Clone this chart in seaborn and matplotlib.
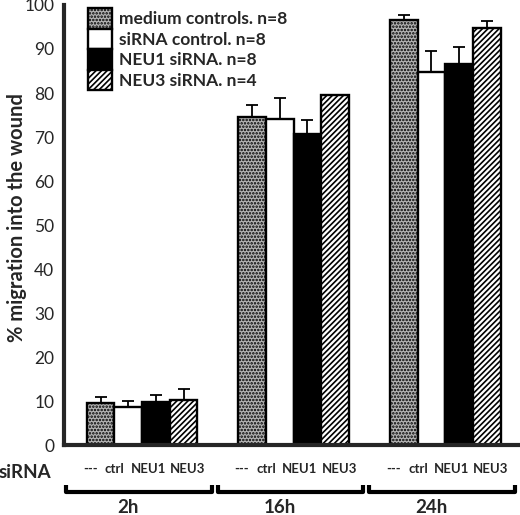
import matplotlib
matplotlib.use('Agg')
import matplotlib.pyplot as plt
import seaborn as sns
import pandas as pd

# data
times = ['2h', '16h', '24h']
conditions = ['medium controls. n=8', 'siRNA control. n=8', 'NEU1 siRNA. n=8', 'NEU3 siRNA. n=4']
short_labels = ['---', 'ctrl', 'NEU1', 'NEU3']

medium = [9.6, 74.6, 96.7]
ctrl = [8.7, 74.0, 84.7]
neu1 = [9.7, 70.7, 86.7]
neu3 = [10.2, 79.5, 94.7]

medium_err = [1.2, 2.6, 1.1]
ctrl_err = [1.2, 4.9, 4.8]
neu1_err = [1.7, 3.2, 3.8]
neu3_err = [2.6, 0.0, 1.6]

values = [medium, ctrl, neu1, neu3]
errors = [medium_err, ctrl_err, neu1_err, neu3_err]

rows = []
for cond, vals in zip(conditions, values):
    for t, v in zip(times, vals):
        rows.append({'time': t, 'condition': cond, 'value': v})
df = pd.DataFrame(rows)

sns.set_style('white')
plt.rcParams['font.family'] = ['Lato', 'DejaVu Sans']
plt.rcParams['hatch.linewidth'] = 1.2

fig = plt.figure(figsize=(5.2, 5.15), dpi=100)
ax = fig.add_axes([64 / 520, 70 / 515, 454 / 520, 440 / 515])

sns.barplot(data=df, x='time', y='value', hue='condition', order=times, hue_order=conditions,
            palette=['#b4b4b4', 'white', 'black', 'white'], width=0.73,
            edgecolor='black', linewidth=1.7, ax=ax, legend=False, errorbar=None)

bar_conts = list(ax.containers)
hatches = ['.....', '', '', '//////']
for cont, h, errs in zip(bar_conts, hatches, errors):
    xs = []
    for p in cont.patches:
        p.set_hatch(h)
        xs.append(p.get_x() + p.get_width() / 2)
    ys = [p.get_height() for p in cont.patches]
    ax.errorbar(xs, ys, yerr=[[0] * len(errs), errs], fmt='none', ecolor='black',
                elinewidth=1.3, capsize=4, capthick=1.3, zorder=1)

ax.set_xlim(-0.515, 2.48)
ax.set_ylim(0, 100)
ax.set_yticks(range(0, 101, 10))
ax.set_xticks([])
ax.set_xlabel('')
ax.set_ylabel('% migration into the wound', fontsize=14.5, fontweight='bold')
ax.yaxis.set_label_coords(-0.082, 0.516)
ax.tick_params(axis='y', direction='out', length=4, width=2, labelsize=12.5, pad=3)
for s in ['top', 'right']:
    ax.spines[s].set_visible(False)
for s in ['left', 'bottom']:
    ax.spines[s].set_linewidth(3)

# legend
ax.legend(handles=[c.patches[0] for c in bar_conts], labels=conditions,
          loc='upper left', bbox_to_anchor=(0.053, 0.993), frameon=False,
          prop={'weight': 'bold', 'size': 12.5}, handlelength=1.38, handleheight=1.44,
          labelspacing=0.0, handletextpad=0.4, borderaxespad=0, borderpad=0)

# per-bar labels under axis, shifted as in the original layout
trans = ax.get_xaxis_transform()
label_shift = [-0.343, -0.18, 0.04, 0.30]
for i in range(len(times)):
    for j, lab in enumerate(short_labels):
        ax.text(i + label_shift[j], -0.055, lab, transform=trans,
                ha='center', va='center', fontsize=9.5, fontweight='bold')

fig.text(25 / 520, 1 - 472 / 515, 'siRNA', ha='center', va='center', fontsize=13.5, fontweight='bold')

# group brackets
for i, t in enumerate(times):
    x0, x1 = i - 0.5, i + 0.46
    ax.plot([x0, x0, x1, x1], [-0.091, -0.107, -0.107, -0.091], transform=trans,
            color='black', lw=3, clip_on=False, solid_capstyle='butt')
    ax.text(i - 0.09, -0.143, t, transform=trans, ha='center', va='center',
            fontsize=13.5, fontweight='bold')

fig.savefig('out.png', dpi=100)
